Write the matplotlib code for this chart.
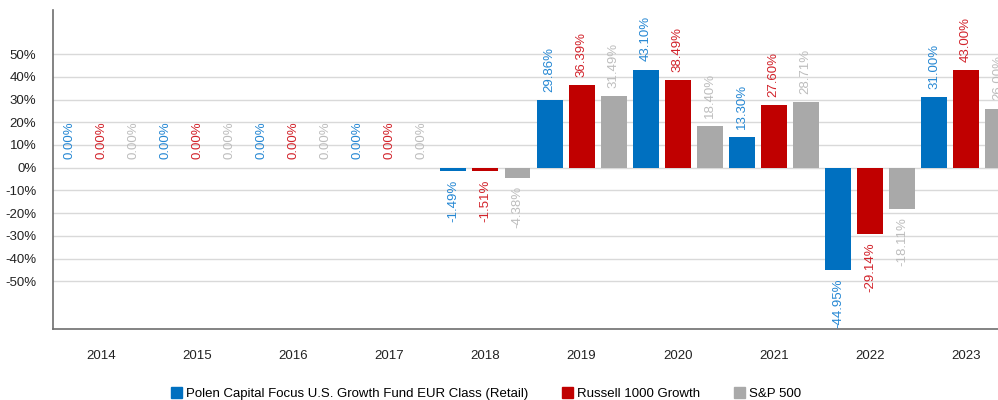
import matplotlib.pyplot as plt
import numpy as np
from matplotlib.patches import Patch

plt.rcParams['font.family'] = ['Liberation Sans', 'DejaVu Sans']

# datos
years = ['2014', '2015', '2016', '2017', '2018', '2019', '2020', '2021', '2022', '2023']
fund = [0.00, 0.00, 0.00, 0.00, -1.49, 29.86, 43.10, 13.30, -44.95, 31.00]
r1000g = [0.00, 0.00, 0.00, 0.00, -1.51, 36.39, 38.49, 27.60, -29.14, 43.00]
sp500 = [0.00, 0.00, 0.00, 0.00, -4.38, 31.49, 18.40, 28.71, -18.11, 26.00]
series_names = ['Polen Capital Focus U.S. Growth Fund EUR Class (Retail)',
                'Russell 1000 Growth', 'S&P 500']
yticks = [50, 40, 30, 20, 10, 0, -10, -20, -30, -40, -50]

bar_colors = ['#0070C0', '#C00000', '#A9A9A9']
text_colors = ['#2587D3', '#D2222A', '#BDBDBD']

fig = plt.figure(figsize=(9.98, 4.0), dpi=100)
ax = fig.add_axes([53 / 998, 71 / 400, 945 / 998, 319 / 400])

x = np.arange(len(years))
width = 0.27
step = 0.333

for k, vals in enumerate([fund, r1000g, sp500]):
    pos = x + (k - 1) * step
    ax.bar(pos, vals, width=width, color=bar_colors[k], zorder=3)
    for p, v in zip(pos, vals):
        if v >= 0:
            ax.annotate(f'{v:.2f}%', (p, v), xytext=(0, 6), textcoords='offset points',
                        rotation=90, ha='center', va='bottom', fontsize=9.5,
                        color=text_colors[k], zorder=4, annotation_clip=False)
        else:
            ax.annotate(f'{v:.2f}%', (p, v), xytext=(0, -6), textcoords='offset points',
                        rotation=90, ha='center', va='top', fontsize=9.5,
                        color=text_colors[k], zorder=4, annotation_clip=False)

ax.set_xlim(-0.5, 9.333)
ax.set_ylim(-71, 69.4)
ax.set_yticks(yticks)
ax.set_yticklabels([f'{t}%' for t in yticks], fontsize=9.5, color='#222222')
ax.set_xticks(x)
ax.set_xticklabels(years, fontsize=9.5, color='#222222')
ax.tick_params(axis='both', length=0)
ax.tick_params(axis='x', pad=15)
ax.tick_params(axis='y', pad=12)
ax.grid(axis='y', color='#D9D9D9', linewidth=1, zorder=0)
for s in ['top', 'right']:
    ax.spines[s].set_visible(False)
ax.spines['left'].set_color('#6E6E6E')
ax.spines['bottom'].set_color('#6E6E6E')
ax.spines['left'].set_linewidth(1.2)
ax.spines['bottom'].set_linewidth(1.2)

handles = [Patch(color=c) for c in bar_colors]
fig.legend(handles, series_names, loc='lower center', bbox_to_anchor=(0.487, -0.03),
           ncol=3, frameon=False, fontsize=9.5, handlelength=0.8, handleheight=0.8,
           handletextpad=0.3, columnspacing=2.6)

fig.savefig('out.png', dpi=100)
